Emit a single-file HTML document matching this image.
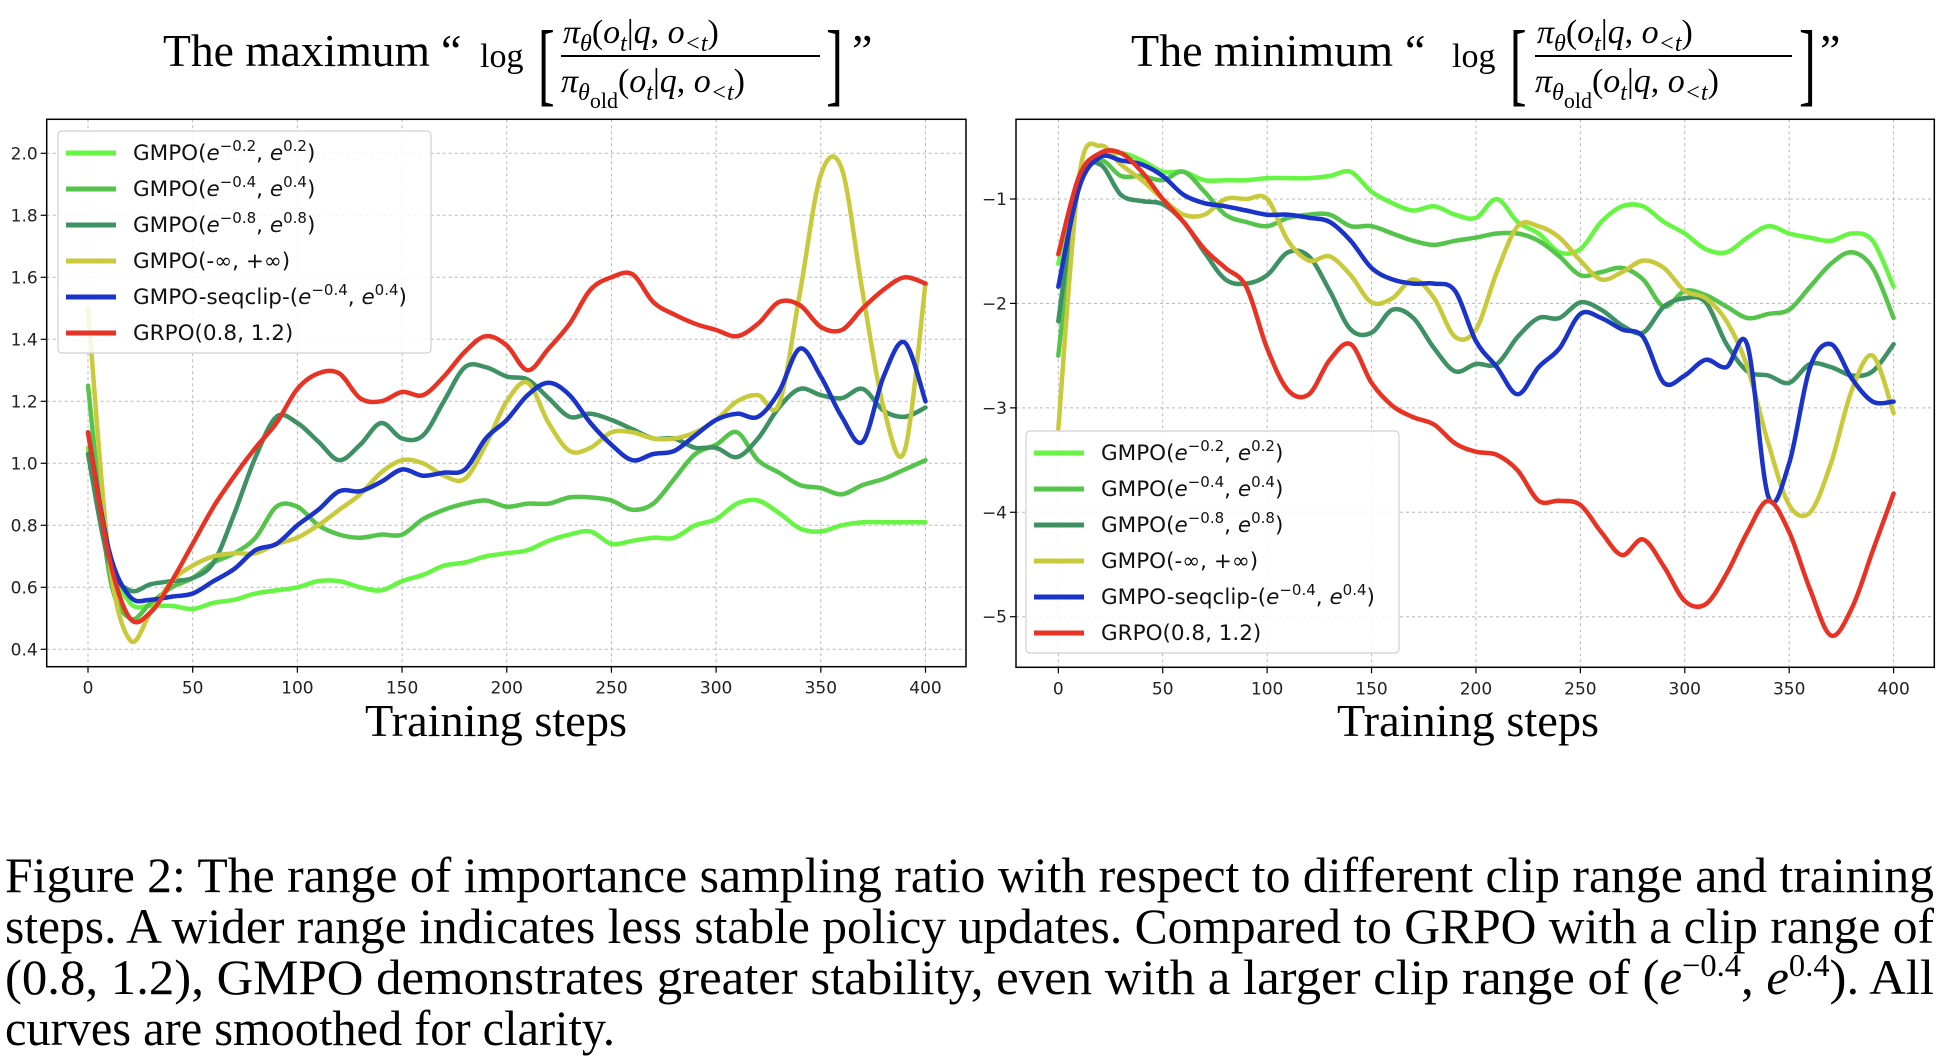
<!DOCTYPE html>
<html><head><meta charset="utf-8"><style>
html,body{margin:0;padding:0;background:#fff;}
svg{display:block;}
.tick{font-family:"DejaVu Sans","Liberation Sans",sans-serif;font-size:17px;fill:#222;}
.leg{font-family:"DejaVu Sans","Liberation Sans",sans-serif;font-size:21.5px;fill:#111;}
.serif{font-family:"Liberation Serif","DejaVu Serif",serif;fill:#000;}
</style></head><body>
<svg id="fig" width="1956" height="1061" viewBox="0 0 1956 1061" xmlns="http://www.w3.org/2000/svg">
<g id="titles" class="serif">
  <g>
    <text x="163" y="66" font-size="46" textLength="267" lengthAdjust="spacingAndGlyphs">The maximum</text>
    <text x="441" y="66" font-size="46">“</text>
    <text x="480" y="67" font-size="34">log</text>
    <text x="538" y="94" font-size="92" transform="scale(0.55,1) translate(440,0)">[</text>
    <text x="563" y="43" font-size="34" font-style="italic">π<tspan font-size="24" dy="8">θ</tspan><tspan dy="-8" font-style="normal">(</tspan>o<tspan font-size="24" dy="8">t</tspan><tspan dy="-8" font-style="normal">|</tspan>q<tspan font-style="normal">, </tspan>o<tspan font-size="24" dy="8">&lt;t</tspan><tspan dy="-8" font-style="normal">)</tspan></text>
    <line x1="561" y1="56" x2="820" y2="56" stroke="#000" stroke-width="2"/>
    <text x="561" y="92" font-size="34" font-style="italic">π<tspan font-size="24" dy="8">θ</tspan><tspan font-size="22" dy="8" font-style="normal">old</tspan><tspan dy="-16" font-style="normal">(</tspan>o<tspan font-size="24" dy="8">t</tspan><tspan dy="-8" font-style="normal">|</tspan>q<tspan font-style="normal">, </tspan>o<tspan font-size="24" dy="8">&lt;t</tspan><tspan dy="-8" font-style="normal">)</tspan></text>
    <text x="826" y="94" font-size="92" transform="scale(0.55,1) translate(676,0)">]</text>
    <text x="852" y="66" font-size="46">”</text>
  </g>
  <g>
    <text x="1131" y="66" font-size="46" textLength="262" lengthAdjust="spacingAndGlyphs">The minimum</text>
    <text x="1405" y="66" font-size="46">“</text>
    <text x="1452" y="67" font-size="34">log</text>
    <text x="1510" y="94" font-size="92" transform="scale(0.55,1) translate(1235,0)">[</text>
    <text x="1537" y="43" font-size="34" font-style="italic">π<tspan font-size="24" dy="8">θ</tspan><tspan dy="-8" font-style="normal">(</tspan>o<tspan font-size="24" dy="8">t</tspan><tspan dy="-8" font-style="normal">|</tspan>q<tspan font-style="normal">, </tspan>o<tspan font-size="24" dy="8">&lt;t</tspan><tspan dy="-8" font-style="normal">)</tspan></text>
    <line x1="1535" y1="56" x2="1792" y2="56" stroke="#000" stroke-width="2"/>
    <text x="1535" y="92" font-size="34" font-style="italic">π<tspan font-size="24" dy="8">θ</tspan><tspan font-size="22" dy="8" font-style="normal">old</tspan><tspan dy="-16" font-style="normal">(</tspan>o<tspan font-size="24" dy="8">t</tspan><tspan dy="-8" font-style="normal">|</tspan>q<tspan font-style="normal">, </tspan>o<tspan font-size="24" dy="8">&lt;t</tspan><tspan dy="-8" font-style="normal">)</tspan></text>
    <text x="1799" y="94" font-size="92" transform="scale(0.55,1) translate(1472,0)">]</text>
    <text x="1820" y="66" font-size="46">”</text>
  </g>
</g>
<g id="plots"></g>
<g class="serif">
  <text x="496" y="736" font-size="46" text-anchor="middle" textLength="262" lengthAdjust="spacingAndGlyphs">Training steps</text>
  <text x="1468" y="736" font-size="46" text-anchor="middle" textLength="262" lengthAdjust="spacingAndGlyphs">Training steps</text>
</g>
<g class="serif" font-size="50">
  <text x="5" y="892" textLength="1929" lengthAdjust="spacingAndGlyphs">Figure 2: The range of importance sampling ratio with respect to different clip range and training</text>
  <text x="5" y="943" textLength="1929" lengthAdjust="spacingAndGlyphs">steps. A wider range indicates less stable policy updates. Compared to GRPO with a clip range of</text>
  <text x="5" y="994" textLength="1929" lengthAdjust="spacingAndGlyphs">(0.8, 1.2), GMPO demonstrates greater stability, even with a larger clip range of (<tspan font-style="italic">e</tspan><tspan font-size="32" dy="-18">−0.4</tspan><tspan dy="18">, </tspan><tspan font-style="italic">e</tspan><tspan font-size="32" dy="-18">0.4</tspan><tspan dy="18">). All</tspan></text>
  <text x="5" y="1045" textLength="610" lengthAdjust="spacingAndGlyphs">curves are smoothed for clarity.</text>
</g>
</svg>
<script>
const steps = [0,10,20,30,40,50,60,70,80,90,100,110,120,130,140,150,160,170,180,190,200,210,220,230,240,250,260,270,280,290,300,310,320,330,340,350,360,370,380,390,400];
const seriesNames = ["GMPO(e^-0.2, e^0.2)","GMPO(e^-0.4, e^0.4)","GMPO(e^-0.8, e^0.8)","GMPO(-∞, +∞)","GMPO-seqclip-(e^-0.4, e^0.4)","GRPO(0.8, 1.2)"];
const xTicks = [0,50,100,150,200,250,300,350,400];
const leftYTicks = [0.4,0.6,0.8,1.0,1.2,1.4,1.6,1.8,2.0];
const rightYTicks = [-1,-2,-3,-4,-5];
// left panel: maximum log ratio
const maxG02 = [1.05,0.70,0.55,0.54,0.54,0.53,0.55,0.56,0.58,0.59,0.60,0.62,0.62,0.60,0.59,0.62,0.64,0.67,0.68,0.70,0.71,0.72,0.75,0.77,0.78,0.74,0.75,0.76,0.76,0.80,0.82,0.87,0.88,0.84,0.79,0.78,0.80,0.81,0.81,0.81,0.81];
const maxG04 = [1.25,0.65,0.50,0.55,0.60,0.63,0.68,0.71,0.76,0.86,0.86,0.80,0.77,0.76,0.77,0.77,0.82,0.85,0.87,0.88,0.86,0.87,0.87,0.89,0.89,0.88,0.85,0.87,0.95,1.03,1.06,1.10,1.01,0.97,0.93,0.92,0.90,0.93,0.95,0.98,1.01];
const maxG08 = [1.03,0.68,0.59,0.61,0.62,0.63,0.68,0.84,1.02,1.15,1.13,1.07,1.01,1.06,1.13,1.08,1.09,1.20,1.31,1.31,1.28,1.27,1.21,1.15,1.16,1.14,1.11,1.08,1.08,1.05,1.05,1.02,1.08,1.18,1.24,1.22,1.21,1.24,1.17,1.15,1.18];
const maxInf = [1.50,0.70,0.43,0.52,0.62,0.67,0.70,0.71,0.71,0.74,0.76,0.80,0.85,0.90,0.97,1.01,1.00,0.96,0.95,1.06,1.20,1.26,1.13,1.04,1.05,1.10,1.10,1.08,1.08,1.10,1.14,1.20,1.22,1.19,1.55,1.93,1.95,1.55,1.18,1.04,1.58];
const maxSeq = [1.10,0.72,0.57,0.56,0.57,0.58,0.62,0.66,0.72,0.74,0.80,0.85,0.91,0.91,0.94,0.98,0.96,0.97,0.98,1.08,1.14,1.22,1.26,1.22,1.13,1.06,1.01,1.03,1.04,1.09,1.14,1.16,1.15,1.23,1.37,1.28,1.15,1.07,1.28,1.39,1.20];
const maxGrpo = [1.10,0.70,0.50,0.52,0.62,0.74,0.86,0.96,1.05,1.13,1.24,1.29,1.29,1.21,1.20,1.23,1.22,1.28,1.36,1.41,1.38,1.30,1.37,1.45,1.56,1.60,1.61,1.52,1.48,1.45,1.43,1.41,1.45,1.52,1.51,1.44,1.43,1.50,1.56,1.60,1.58];
// right panel: minimum log ratio
const minG02 = [-1.62,-0.82,-0.60,-0.56,-0.63,-0.74,-0.74,-0.82,-0.82,-0.82,-0.80,-0.80,-0.80,-0.78,-0.74,-0.93,-1.04,-1.11,-1.07,-1.15,-1.18,-1.00,-1.22,-1.33,-1.51,-1.48,-1.22,-1.07,-1.07,-1.22,-1.33,-1.48,-1.51,-1.37,-1.26,-1.33,-1.37,-1.40,-1.33,-1.40,-1.84];
const minG04 = [-2.50,-0.85,-0.63,-0.78,-0.78,-0.82,-0.74,-0.93,-1.15,-1.22,-1.26,-1.18,-1.15,-1.15,-1.26,-1.26,-1.33,-1.40,-1.44,-1.40,-1.37,-1.33,-1.33,-1.40,-1.55,-1.73,-1.70,-1.66,-1.77,-2.03,-1.88,-1.92,-2.03,-2.14,-2.10,-2.06,-1.84,-1.62,-1.51,-1.66,-2.14];
const minG08 = [-2.17,-0.82,-0.67,-0.96,-1.02,-1.05,-1.22,-1.51,-1.77,-1.81,-1.73,-1.51,-1.55,-1.88,-2.25,-2.28,-2.06,-2.14,-2.43,-2.65,-2.58,-2.58,-2.32,-2.14,-2.14,-1.99,-2.06,-2.21,-2.28,-2.03,-1.95,-1.99,-2.39,-2.65,-2.69,-2.76,-2.58,-2.61,-2.69,-2.65,-2.39];
const minInf = [-3.20,-0.78,-0.49,-0.67,-0.82,-1.00,-1.15,-1.15,-1.00,-1.00,-1.00,-1.40,-1.59,-1.55,-1.73,-1.99,-1.95,-1.77,-1.95,-2.32,-2.25,-1.70,-1.26,-1.26,-1.37,-1.59,-1.77,-1.70,-1.59,-1.66,-1.88,-1.95,-2.17,-2.61,-3.34,-3.93,-4.00,-3.53,-2.83,-2.50,-3.05];
const minSeq = [-1.84,-0.89,-0.60,-0.63,-0.67,-0.78,-0.96,-1.04,-1.07,-1.11,-1.15,-1.15,-1.18,-1.22,-1.40,-1.66,-1.77,-1.81,-1.81,-1.88,-2.36,-2.61,-2.87,-2.61,-2.43,-2.10,-2.14,-2.25,-2.32,-2.76,-2.69,-2.54,-2.61,-2.40,-3.85,-3.53,-2.61,-2.39,-2.72,-2.94,-2.94];
const minGrpo = [-1.53,-0.78,-0.56,-0.56,-0.74,-1.00,-1.22,-1.48,-1.66,-1.84,-2.43,-2.83,-2.87,-2.54,-2.39,-2.76,-2.98,-3.09,-3.16,-3.34,-3.42,-3.45,-3.60,-3.89,-3.89,-3.93,-4.19,-4.41,-4.26,-4.52,-4.85,-4.88,-4.59,-4.19,-3.89,-4.19,-4.74,-5.18,-4.92,-4.37,-3.82];

const colors = ["#66f542","#55c44a","#3d9162","#c9c93c","#1a33c8","#e83324"];
const NS = "http://www.w3.org/2000/svg";
function mk(tag, attrs, parent){const e=document.createElementNS(NS,tag);for(const k in attrs)e.setAttribute(k,attrs[k]);if(parent)parent.appendChild(e);return e;}
function smoothPath(pts){
  let d="M"+pts[0][0].toFixed(1)+","+pts[0][1].toFixed(1);
  for(let i=0;i<pts.length-1;i++){
    const p0=pts[i-1]||pts[i],p1=pts[i],p2=pts[i+1],p3=pts[i+2]||p2;
    const c1=[p1[0]+(p2[0]-p0[0])/6,p1[1]+(p2[1]-p0[1])/6];
    const c2=[p2[0]-(p3[0]-p1[0])/6,p2[1]-(p3[1]-p1[1])/6];
    d+="C"+c1[0].toFixed(1)+","+c1[1].toFixed(1)+" "+c2[0].toFixed(1)+","+c2[1].toFixed(1)+" "+p2[0].toFixed(1)+","+p2[1].toFixed(1);
  }
  return d;
}
function legendLabel(t, name){
  const g=mk("text",{x:0,y:0,class:"leg"},null);
  const m=name.match(/^(.*)\(e\^(-?[\d.]+), e\^([\d.]+)\)$/);
  if(!m){g.textContent=name;return g;}
  const add=(txt,opt)=>{const s=mk("tspan",opt||{},g);s.textContent=txt;return s;};
  add(m[1]+"(");
  add("e",{"font-style":"italic"});
  add(m[2].replace("-","−"),{"font-size":"15",dy:"-9"});
  add(", ",{dy:"9"});
  add("e",{"font-style":"italic"});
  add(m[3],{"font-size":"15",dy:"-9"});
  add(")",{dy:"9"});
  return g;
}
function panel(cfg){
  const root=document.getElementById("plots");
  const g=mk("g",{},root);
  
  
  const X=s=>cfg.x0+(s-0)*(cfg.x400-cfg.x0)/400;
  const Y=v=>cfg.yA+(v-cfg.vA)*(cfg.yB-cfg.yA)/(cfg.vB-cfg.vA);
  const clip=mk("clipPath",{id:cfg.name+"-clip"},g);
  mk("rect",{x:cfg.L,y:cfg.T,width:cfg.R-cfg.L,height:cfg.B-cfg.T},clip);
  xTicks.forEach(t=>{
    const l=mk("line",{x1:X(t),x2:X(t),y1:cfg.T,y2:cfg.B,stroke:"#b8b8b8","stroke-width":1,"stroke-dasharray":"3,3"},g);
    
    
    mk("line",{x1:X(t),x2:X(t),y1:cfg.B,y2:cfg.B+6,stroke:"#000","stroke-width":1.2},g);
    const tx=mk("text",{x:X(t),y:cfg.B+27,class:"tick","text-anchor":"middle"},g);
    tx.textContent=t;
    
    
  });
  cfg.yTicks.forEach(t=>{
    const l=mk("line",{x1:cfg.L,x2:cfg.R,y1:Y(t),y2:Y(t),stroke:"#b8b8b8","stroke-width":1,"stroke-dasharray":"3,3"},g);
    
    
    mk("line",{x1:cfg.L-6,x2:cfg.L,y1:Y(t),y2:Y(t),stroke:"#000","stroke-width":1.2},g);
    const tx=mk("text",{x:cfg.L-9,y:Y(t)+6,class:"tick","text-anchor":"end"},g);
    tx.textContent=cfg.fmt(t);
    
    
  });
  const lines=mk("g",{"clip-path":"url(#"+cfg.name+"-clip)"},g);
  cfg.series.forEach((vals,i)=>{
    const pts=vals.map((v,j)=>[X(steps[j]),Y(v)]);
    const p=mk("path",{d:smoothPath(pts),fill:"none",stroke:colors[i],"stroke-width":4.5,"stroke-linejoin":"round","stroke-linecap":"round"},lines);
    
    
  });
  const frame=mk("rect",{x:cfg.L,y:cfg.T,width:cfg.R-cfg.L,height:cfg.B-cfg.T,fill:"none",stroke:"#000","stroke-width":1.5},g);
  
  
  const lg=mk("g",{},g);
  
  
  mk("rect",{x:cfg.lx,y:cfg.ly,width:cfg.lw,height:cfg.lh,rx:4,fill:"#fff","fill-opacity":0.85,stroke:"#d0d0d0","stroke-width":1.2},lg);
  seriesNames.forEach((n,i)=>{
    const yy=cfg.ly+22+i*36;
    const e=mk("g",{},lg);
    
    
    mk("line",{x1:cfg.lx+8,x2:cfg.lx+58,y1:yy,y2:yy,stroke:colors[i],"stroke-width":5},e);
    const t=legendLabel(null,n);
    t.setAttribute("x",cfg.lx+75);t.setAttribute("y",yy+7);
    e.appendChild(t);
  });
}
panel({name:"left-chart",L:46.7,R:966,T:119.3,B:666.7,x0:88,x400:925.5,yA:153.3,vA:2.0,yB:649.3,vB:0.4,
  yTicks:leftYTicks,fmt:t=>t.toFixed(1),series:[maxG02,maxG04,maxG08,maxInf,maxSeq,maxGrpo],
  lx:58,ly:131,lw:373,lh:222});
panel({name:"right-chart",L:1016,R:1934.3,T:119.3,B:667.3,x0:1058.3,x400:1893.6,yA:199,vA:-1,yB:616.7,vB:-5,
  yTicks:rightYTicks,fmt:t=>"−"+Math.abs(t),series:[minG02,minG04,minG08,minInf,minSeq,minGrpo],
  lx:1026,ly:431,lw:373,lh:222});
</script>
</body></html>
